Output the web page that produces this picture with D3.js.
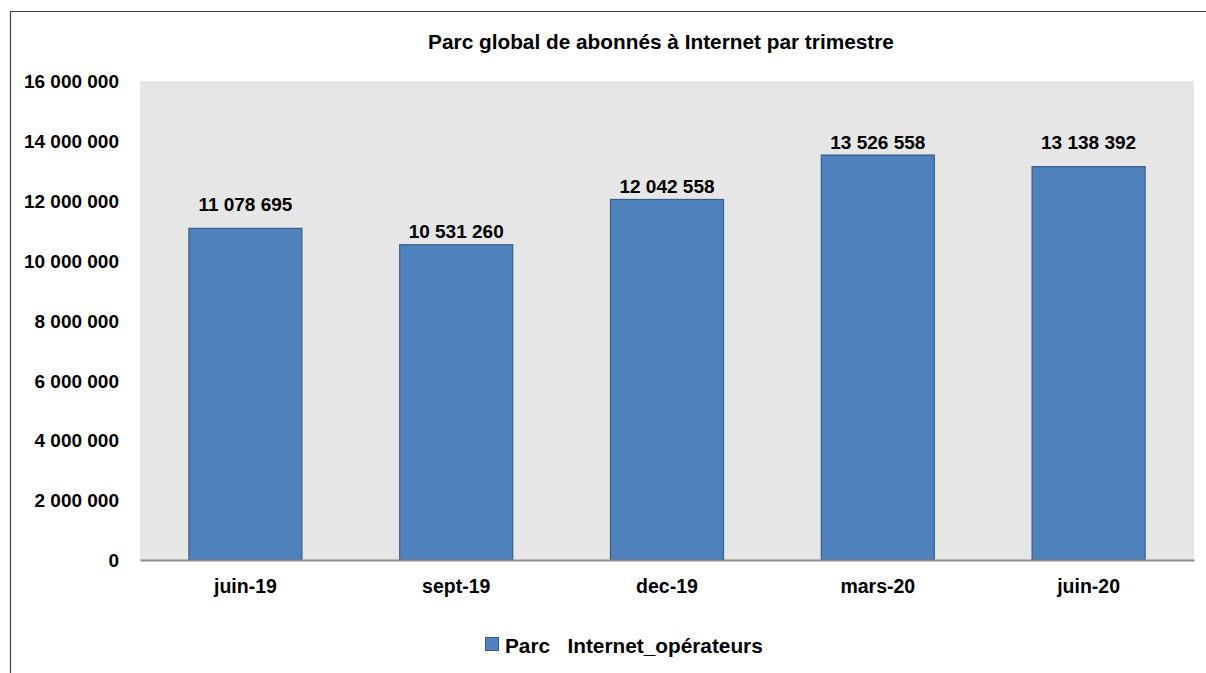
<!DOCTYPE html>
<html>
<head>
<meta charset="utf-8">
<script src="https://cdn.jsdelivr.net/npm/d3@7"></script>
<style>
  html, body { margin: 0; padding: 0; background: #fff; overflow: hidden; }
  svg { display: block; }
  text { font-family: "Liberation Sans", Arial, sans-serif; font-weight: bold; fill: #000; }
</style>
</head>
<body>
<div id="chart"></div>
<script>
// Data
const categories = ["juin-19", "sept-19", "dec-19", "mars-20", "juin-20"];
const parcValues = [11078695, 10531260, 12042558, 13526558, 13138392];
const yTicks = [0, 2000000, 4000000, 6000000, 8000000, 10000000, 12000000, 14000000, 16000000];
const seriesName = "Parc   Internet_opérateurs";
const title = "Parc global de abonnés à Internet par trimestre";

// label lift above each bar top (px), as placed in the original
const labelLift = [17, 7, 6, 6, 17.5];

const W = 1206, H = 673;
const margin = {top: 81, right: 12, bottom: 113, left: 140},
    width = W - margin.left - margin.right,
    height = H - margin.top - margin.bottom;

const fs = 19;

const svg = d3.select("#chart")
  .append("svg")
    .attr("width", W)
    .attr("height", H);

// outer frame: only left and top edges are in view
svg.append("path")
  .attr("d", `M10.5,${H + 5}V11.5H${W + 5}`)
  .attr("fill", "none")
  .attr("stroke", "#404040")
  .attr("stroke-width", 1.2);

const g = svg.append("g")
    .attr("transform", `translate(${margin.left},${margin.top})`);

// plot background
g.append("rect")
  .attr("width", width).attr("height", height)
  .attr("fill", "#e6e6e6");

const x = d3.scaleBand()
  .domain(categories)
  .range([0, width])
  .paddingInner(0.464)
  .paddingOuter(0.232);

const y = d3.scaleLinear()
  .domain([0, 16000000])
  .range([height, 0]);

const fmt = v => d3.format(",")(v).replace(/,/g, " ");

// Y axis labels
const yAxis = g.append("g")
  .call(d3.axisLeft(y).tickValues(yTicks).tickSize(0).tickPadding(21).tickFormat(fmt));
yAxis.select(".domain").remove();
yAxis.selectAll("text").style("font-size", fs + "px").attr("dy", "0.35em");

// bars
g.append("g")
  .selectAll("rect")
  .data(parcValues)
  .join("rect")
    .attr("x", (d, i) => x(categories[i]))
    .attr("y", d => y(d))
    .attr("width", x.bandwidth())
    .attr("height", d => height - y(d))
    .attr("fill", "#4f81bd")
    .attr("stroke", "#385d8a")
    .attr("stroke-width", 1.2);

// value labels
g.append("g")
  .selectAll("text")
  .data(parcValues)
  .join("text")
    .attr("x", (d, i) => x(categories[i]) + x.bandwidth() / 2)
    .attr("y", (d, i) => y(d) - labelLift[i])
    .attr("text-anchor", "middle")
    .style("font-size", fs + "px")
    .text(d => fmt(d));

// X axis
const xAxis = g.append("g")
  .attr("transform", `translate(0,${height})`)
  .call(d3.axisBottom(x).tickSize(0).tickPadding(19));
xAxis.select(".domain").attr("stroke", "#8c8c8c").attr("stroke-width", 2);
xAxis.selectAll("text").style("font-size", "19.5px");

// title
svg.append("text")
  .attr("x", 661)
  .attr("y", 49)
  .attr("text-anchor", "middle")
  .style("font-size", "20.8px")
  .text(title);

// legend
const leg = svg.append("g").attr("transform", "translate(485.5,637.5)");
leg.append("rect")
  .attr("width", 13).attr("height", 13)
  .attr("fill", "#4f81bd")
  .attr("stroke", "#385d8a");
leg.append("text")
  .attr("x", 19.5).attr("y", 15.5)
  .style("font-size", "20.8px")
  .style("white-space", "pre")
  .text(seriesName);
</script>
</body>
</html>
